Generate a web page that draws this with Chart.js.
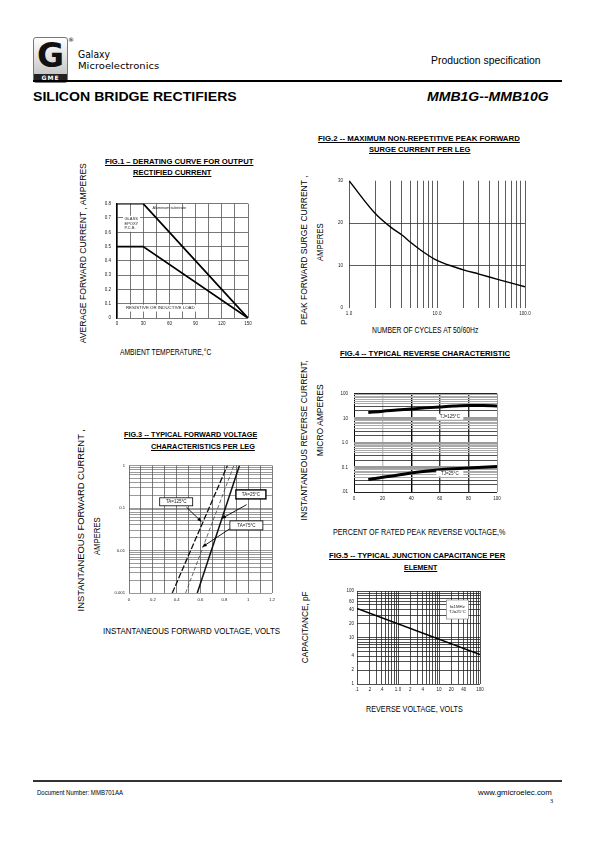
<!DOCTYPE html>
<html>
<head>
<meta charset="utf-8">
<script src="https://cdn.jsdelivr.net/npm/chart.js@4.4.1/dist/chart.umd.min.js"></script>
<style>
html, body { margin: 0; padding: 0; background: #fff; }
body { width: 595px; height: 842px; position: relative; overflow: hidden; color: #000; }
.t { position: absolute; white-space: nowrap; transform-origin: 0 50%; }
.v { position: absolute; white-space: nowrap; transform-origin: 50% 50%; }
canvas { position: absolute; }
.rule { position: absolute; background: #000; }
</style>
</head>
<body>

<div style="position:absolute;left:33px;top:37px;width:33px;height:44px;border:1px solid #777;border-radius:3px;background:linear-gradient(#fff,#bbb);overflow:hidden">
  <div style="position:absolute;left:0;right:0;top:1px;text-align:center;font:bold 33px/1 'DejaVu Sans';color:#111">G</div>
  <div style="position:absolute;left:0;right:0;bottom:0;height:8px;background:#222;color:#fff;font:bold 6px/8px 'DejaVu Sans';text-align:center;letter-spacing:1px">GME</div>
</div>
<div style="position:absolute;left:68px;top:37px;font:6px/1 'DejaVu Sans'">®</div>
<div class="rule" style="left:33px;top:80px;width:529px;height:2px"></div>
<div class="rule" style="left:33px;top:780px;width:529px;height:1.5px;background:#333"></div>

<script>
// Fig.1 derating curve
var fig1Temp = [0, 30, 150];
var fig1Aluminum = [0.8, 0.8, 0];
var fig1Glass = [0.5, 0.5, 0];
var fig1XTicks = [0, 30, 60, 90, 120, 150];
var fig1XLabels = ['0', '30', '60', '90', '120', '150'];
var fig1YTicks = [0, 0.1, 0.2, 0.3, 0.4, 0.5, 0.6, 0.7, 0.8];
var fig1YLabels = ['0', '0.1', '0.2', '0.3', '0.4', '0.5', '0.6', '0.7', '0.8'];

// Fig.2 surge current
var fig2Cycles = [1, 2, 3, 4, 5, 7, 10, 20, 30, 50, 100];
var fig2Amps = [30, 22.2, 19, 17.2, 15.5, 13.2, 11.2, 9, 8, 6.7, 5];
var fig2XTicks = [1, 10, 100];
var fig2XLabels = ['1.0', '10.0', '100.0'];
var fig2YTicks = [0, 10, 20, 30];
var fig2YLabels = ['0', '10', '20', '30'];

// Fig.3 forward voltage (each line: two end points)
var fig3Amps = [0.001, 1];
var fig3Volts125 = [0.363, 0.826];
var fig3Volts75 = [0.475, 0.88];
var fig3Volts25 = [0.573, 0.927];
var fig3XTicks = [0, 0.2, 0.4, 0.6, 0.8, 1, 1.2];
var fig3XLabels = ['0', '0.2', '0.4', '0.6', '0.8', '1', '1.2'];
var fig3YTicks = [0.001, 0.01, 0.1, 1];
var fig3YLabels = ['0.001', '0.01', '0.1', '1'];

// Fig.4 reverse characteristic
var fig4Percent = [10, 20, 30, 40, 50, 60, 70, 80, 90, 100];
var fig4Tj125 = [17, 19.5, 21.5, 24, 26.5, 29, 31.5, 33, 33, 31.5];
var fig4Tj25 = [0.032, 0.04, 0.048, 0.059, 0.07, 0.08, 0.088, 0.095, 0.102, 0.109];
var fig4XTicks = [0, 20, 40, 60, 80, 100];
var fig4XLabels = ['0', '20', '40', '60', '80', '100'];
var fig4YTicks = [0.01, 0.1, 1, 10, 100];
var fig4YLabels = ['.01', '0.1', '1.0', '10', '100'];

// Fig.5 junction capacitance
var fig5Volts = [0.1, 100];
var fig5Cap = [42, 4.3];
var fig5XTicks = [0.1, 0.2, 0.4, 1, 2, 4, 10, 20, 40, 100];
var fig5XLabels = ['.1', '.2', '.4', '1.0', '2', '4', '10', '20', '40', '100'];
var fig5YTicks = [1, 2, 4, 10, 20, 40, 60, 100];
var fig5YLabels = ['1', '2', '4', '10', '20', '40', '60', '100'];

var F = '"Liberation Sans", Arial, sans-serif';

function near(a, b) { return Math.abs(a - b) <= Math.abs(b) * 1e-6 + 1e-9; }
function labeler(vals, texts) {
    return function (v) {
        for (var i = 0; i < vals.length; i++) if (near(v, vals[i])) return texts[i];
        return '';
    };
}
function logGrid(min, max) {
    var out = [];
    for (var e = Math.floor(Math.log10(min)); e <= Math.ceil(Math.log10(max)); e++) {
        for (var m = 1; m < 10; m++) {
            var v = +(m * Math.pow(10, e)).toPrecision(6);
            if (v >= min * 0.999 && v <= max * 1.001) out.push(v);
        }
    }
    return out;
}
function stepGrid(min, max, step) {
    var out = [];
    for (var v = min; v <= max + step / 1000; v += step) out.push(+v.toPrecision(6));
    return out;
}
function useTicks(vals) {
    return function (s) { s.ticks = vals.map(function (v) { return { value: v }; }); };
}
function pts(xs, ys) { return xs.map(function (x, i) { return { x: x, y: ys[i] }; }); }
function tickOpts(cb, pad, size) {
    return { callback: cb, autoSkip: false, maxRotation: 0, padding: pad, color: '#222', font: { family: F, size: size || 4.5 } };
}
function line(data, width, color, dash, smooth) {
    return { data: data, borderColor: color || '#000', borderWidth: width, borderDash: dash || [],
        pointRadius: 0, fill: false, tension: 0, cubicInterpolationMode: smooth ? 'monotone' : 'default' };
}

function notesPlugin(items) {
    return {
        id: 'notes',
        afterDatasetsDraw: function (chart) {
            var ctx = chart.ctx, sx = chart.scales.x, sy = chart.scales.y;
            ctx.save();
            items.forEach(function (it) {
                if (it.kind === 'arrow') {
                    var x1 = sx.getPixelForValue(it.x1), y1 = sy.getPixelForValue(it.y1);
                    var x2 = sx.getPixelForValue(it.x2), y2 = sy.getPixelForValue(it.y2);
                    var a = Math.atan2(y2 - y1, x2 - x1);
                    ctx.strokeStyle = '#000'; ctx.fillStyle = '#000'; ctx.lineWidth = 0.9;
                    ctx.beginPath(); ctx.moveTo(x1, y1); ctx.lineTo(x2 - 3 * Math.cos(a), y2 - 3 * Math.sin(a)); ctx.stroke();
                    ctx.beginPath();
                    ctx.moveTo(x2, y2);
                    ctx.lineTo(x2 - 4.5 * Math.cos(a) + 1.8 * Math.sin(a), y2 - 4.5 * Math.sin(a) - 1.8 * Math.cos(a));
                    ctx.lineTo(x2 - 4.5 * Math.cos(a) - 1.8 * Math.sin(a), y2 - 4.5 * Math.sin(a) + 1.8 * Math.cos(a));
                    ctx.closePath(); ctx.fill();
                    return;
                }
                var cx = sx.getPixelForValue(it.x), cy = sy.getPixelForValue(it.y);
                ctx.font = it.size + 'px ' + F;
                var lines = it.lines, lh = it.size * 1.1;
                var tw = it.w || (Math.max.apply(null, lines.map(function (l) { return ctx.measureText(l).width; })) + 3);
                var th = it.h || (lines.length * lh + 2);
                var left = it.anchor === 'left' ? cx : cx - tw / 2;
                if (it.bg) { ctx.fillStyle = it.bg; ctx.fillRect(left, cy - th / 2, tw, th); }
                if (it.border) { ctx.strokeStyle = it.border; ctx.lineWidth = it.lw || 0.8; ctx.strokeRect(left, cy - th / 2, tw, th); }
                ctx.fillStyle = '#222'; ctx.textBaseline = 'middle';
                lines.forEach(function (l, i) {
                    var y = cy + (i - (lines.length - 1) / 2) * lh;
                    if (it.align === 'left') { ctx.textAlign = 'left'; ctx.fillText(l, left + 1.5, y); }
                    else { ctx.textAlign = 'center'; ctx.fillText(l, left + tw / 2, y); }
                });
            });
            ctx.restore();
        }
    };
}

function chartAt(box, pad, datasets, scales, items) {
    var c = document.createElement('canvas');
    var w = box[2] - box[0] + pad[0] + pad[2], h = box[3] - box[1] + pad[1] + pad[3];
    c.width = w; c.height = h;
    c.style.left = (box[0] - pad[0]) + 'px'; c.style.top = (box[1] - pad[1]) + 'px';
    c.style.width = w + 'px'; c.style.height = h + 'px';
    document.body.appendChild(c);
    scales.x.afterFit = function (s) { s.height = pad[3]; };
    scales.y.afterFit = function (s) { s.width = pad[0]; };
    return new Chart(c, {
        type: 'line',
        data: { datasets: datasets },
        options: {
            responsive: false, animation: false, events: [],
            layout: { padding: { left: 0, top: pad[1], right: pad[2], bottom: 0 } },
            plugins: { legend: { display: false }, tooltip: { enabled: false } },
            scales: scales
        },
        plugins: [notesPlugin(items || [])]
    });
}

// text helpers (scaled to the measured width of the original)
function put(text, x, cy, w, font, under) {
    var d = document.createElement('div');
    d.className = 't'; d.textContent = text; d.style.font = font;
    if (under) d.style.textDecoration = 'underline';
    document.body.appendChild(d);
    var nw = d.offsetWidth, nh = d.offsetHeight;
    d.style.left = x + 'px'; d.style.top = (cy - nh / 2) + 'px';
    d.style.transform = 'scaleX(' + (w / nw) + ')';
}
function putV(text, cx, cy, len, font) {
    var d = document.createElement('div');
    d.className = 'v'; d.textContent = text; d.style.font = font;
    document.body.appendChild(d);
    var nw = d.offsetWidth, nh = d.offsetHeight;
    d.style.left = (cx - nw / 2) + 'px'; d.style.top = (cy - nh / 2) + 'px';
    d.style.transform = 'rotate(-90deg) scaleX(' + (len / nw) + ')';
}

var TITLE = 'bold 7.8px/1 ' + F;
var AXIS = '8.5px/1 ' + F;

// header and footer
put('Galaxy', 78, 54, 32, '11px/1 "DejaVu Sans"');
put('Microelectronics', 78, 66.5, 81, '9px/1 "DejaVu Sans"');
put('Production specification', 431, 61, 110, '10px/1 ' + F);
put('SILICON BRIDGE RECTIFIERS', 33, 96, 204, 'bold 13px/1 ' + F);
put('MMB1G--MMB10G', 427, 96, 122, 'italic bold 13px/1 ' + F);
put('Document Number: MMB701AA', 37, 792, 86, '7px/1 ' + F);
put('www.gmicroelec.com', 478, 792, 74, '7px/1 ' + F);
put('3', 550, 801, 3.5, '7px/1 "Liberation Serif"');

// Fig.1
put('FIG.1 – DERATING CURVE FOR OUTPUT', 105, 161.5, 148, TITLE, true);
put('RECTIFIED CURRENT', 133, 172.5, 78, TITLE, true);
putV('AVERAGE FORWARD CURRENT , AMPERES', 83, 253, 180, AXIS);
put('AMBIENT TEMPERATURE,°C', 120, 352, 91, AXIS);
chartAt([117, 201, 248, 318], [28, 6, 8, 12], [
    line(pts(fig1Temp, fig1Aluminum), 1.8),
    line(pts(fig1Temp, fig1Glass), 1.8)
], {
    x: { type: 'linear', min: 0, max: 150, afterBuildTicks: useTicks(stepGrid(0, 150, 15)),
         ticks: tickOpts(labeler(fig1XTicks, fig1XLabels), 3),
         grid: { color: '#555', lineWidth: 0.8, drawTicks: false }, border: { display: false } },
    y: { type: 'linear', min: 0, max: 0.8, afterBuildTicks: useTicks(fig1YTicks),
         ticks: tickOpts(labeler(fig1YTicks, fig1YLabels), 6),
         grid: { color: '#555', lineWidth: 0.8, drawTicks: false }, border: { display: true, color: '#000', width: 1.3 } }
}, [
    { kind: 'text', x: 38.9, y: 0.769, lines: ['Aluminum substrate'], size: 3.8, anchor: 'left', align: 'left' },
    { kind: 'box', x: 16.6, y: 0.66, w: 17, h: 16, lines: ['GLASS', 'EPOXY', 'P.C.B.'], size: 4, bg: '#fff', align: 'left' },
    { kind: 'text', x: 8.5, y: 0.069, lines: ['RESISTIVE OR INDUCTIVE LOAD'], size: 4.4, bg: '#fff', anchor: 'left', align: 'left' }
]);

// Fig.2
put('FIG.2 -- MAXIMUM NON-REPETITIVE PEAK FORWARD', 318, 138.5, 202, TITLE, true);
put('SURGE CURRENT PER LEG', 369, 150, 101, TITLE, true);
putV('PEAK FORWARD SURGE CURRENT ,', 304, 250, 150, AXIS);
putV('AMPERES', 320, 242, 38, AXIS);
put('NUMBER OF CYCLES AT 50/60Hz', 372, 330, 106, AXIS);
chartAt([349, 178, 525, 308], [26, 6, 12, 12], [
    line(pts(fig2Cycles, fig2Amps), 1.4, '#000', null, true)
], {
    x: { type: 'logarithmic', min: 1, max: 100, afterBuildTicks: useTicks(logGrid(1, 100)),
         ticks: tickOpts(labeler(fig2XTicks, fig2XLabels), 3),
         grid: { color: '#333', lineWidth: 0.8, drawTicks: false }, border: { display: false } },
    y: { type: 'linear', min: 0, max: 30, afterBuildTicks: useTicks(fig2YTicks),
         ticks: tickOpts(labeler(fig2YTicks, fig2YLabels), 6),
         grid: { color: function (c) { return (c.tick && (c.tick.value === 10 || c.tick.value === 20)) ? '#333' : 'rgba(0,0,0,0)'; },
                 lineWidth: 0.8, drawTicks: false },
         border: { display: false } }
});

// Fig.3
put('FIG.3 -- TYPICAL FORWARD VOLTAGE', 124, 435, 133, TITLE, true);
put('CHARACTERISTICS PER LEG', 151, 446.5, 104, TITLE, true);
putV('INSTANTANEOUS FORWARD CURRENT ,', 81.5, 520, 182, AXIS);
putV('AMPERES', 96.5, 536, 38, AXIS);
put('INSTANTANEOUS FORWARD VOLTAGE,  VOLTS', 103, 631.5, 177, AXIS);
chartAt([129, 465, 272, 593], [24, 6, 10, 12], [
    line(pts(fig3Volts125, fig3Amps), 1.3, '#111', [6, 2]),
    line(pts(fig3Volts75, fig3Amps), 0.8, '#444', [4, 2]),
    line(pts(fig3Volts25, fig3Amps), 1.5, '#111')
], {
    x: { type: 'linear', min: 0, max: 1.2, afterBuildTicks: useTicks(stepGrid(0, 1.2, 0.1)),
         ticks: tickOpts(labeler(fig3XTicks, fig3XLabels), 4, 4.2),
         grid: { color: '#444', lineWidth: 0.7, drawTicks: false }, border: { display: false } },
    y: { type: 'logarithmic', min: 0.001, max: 1, afterBuildTicks: useTicks(logGrid(0.001, 1)),
         ticks: tickOpts(labeler(fig3YTicks, fig3YLabels), 4, 4.2),
         grid: { color: '#555', lineWidth: 0.6, drawTicks: false }, border: { display: false } }
}, [
    { kind: 'arrow', x1: 0.482, y1: 0.105, x2: 0.61, y2: 0.047 },
    { kind: 'arrow', x1: 0.987, y1: 0.12, x2: 0.775, y2: 0.056 },
    { kind: 'arrow', x1: 0.846, y1: 0.0325, x2: 0.615, y2: 0.0121 },
    { kind: 'box', x: 0.396, y: 0.14, w: 33, h: 8, lines: ['TA=125°C'], size: 4.5, bg: '#fff', border: '#000', lw: 0.8 },
    { kind: 'box', x: 1.023, y: 0.209, w: 30, h: 9, lines: ['TA=25°C'], size: 4.5, bg: '#fff', border: '#000', lw: 1.4 },
    { kind: 'box', x: 0.985, y: 0.039, w: 33, h: 9, lines: ['TA=75°C'], size: 4.5, bg: '#fff', border: '#000', lw: 0.8 }
]);

// Fig.4
put('FIG.4 -- TYPICAL REVERSE CHARACTERISTIC', 340, 354, 170, TITLE, true);
putV('INSTANTANEOUS REVERSE CURRENT,', 304.5, 440, 160, AXIS);
putV('MICRO AMPERES', 320, 420, 72, AXIS);
put('PERCENT OF RATED PEAK REVERSE VOLTAGE,%', 333, 532, 172, AXIS);
chartAt([354, 391, 497, 492], [28, 6, 10, 12], [
    line(pts(fig4Percent, fig4Tj125), 3, '#000', null, true),
    line(pts(fig4Percent, fig4Tj25), 3, '#000', null, true)
], {
    x: { type: 'linear', min: 0, max: 100, afterBuildTicks: useTicks(fig4XTicks),
         ticks: tickOpts(labeler(fig4XTicks, fig4XLabels), 4),
         grid: { color: function (c) {
                     var v = c.tick && c.tick.value;
                     if (v === 20) return '#c4c4c4';
                     if (v === 40 || v === 0) return '#000';
                     if (v === 100) return '#999';
                     return '#333';
                 },
                 lineWidth: function (c) { var v = c.tick && c.tick.value; return (v === 0 || v === 100) ? 1 : 1.4; },
                 drawTicks: false },
         border: { display: false } },
    y: { type: 'logarithmic', min: 0.01, max: 100, afterBuildTicks: useTicks(logGrid(0.01, 100)),
         ticks: tickOpts(labeler(fig4YTicks, fig4YLabels), 6),
         grid: { color: function (c) {
                     var v = c.tick && c.tick.value;
                     if (v === 100 || v === 0.01) return '#222';
                     var m = Math.round(v / Math.pow(10, Math.floor(Math.log10(v) + 1e-9)));
                     if (m === 1) return '#9a9a9a';
                     if (m === 2 || m === 3) return '#222';
                     return '#aaa';
                 },
                 lineWidth: function (c) {
                     var v = c.tick && c.tick.value;
                     if (v === 100 || v === 0.01) return 1;
                     var m = Math.round(v / Math.pow(10, Math.floor(Math.log10(v) + 1e-9)));
                     return m === 1 ? 2.5 : (m <= 3 ? 0.8 : 1);
                 },
                 drawTicks: false },
         border: { display: false } }
}, [
    { kind: 'box', x: 67, y: 11.5, w: 27, h: 6, lines: ['TJ=125°C'], size: 4.5, bg: '#fff' },
    { kind: 'box', x: 67, y: 0.056, w: 27, h: 6, lines: ['TJ=25°C'], size: 4.5, bg: '#fff' }
]);

// Fig.5
put('FIG.5 -- TYPICAL JUNCTION CAPACITANCE PER', 329, 556, 176, TITLE, true);
put('ELEMENT', 404, 568, 33, TITLE, true);
putV('CAPACITANCE,  pF', 305, 627, 72, AXIS);
put('REVERSE VOLTAGE,  VOLTS', 366, 709, 97, AXIS);
chartAt([357, 591, 480, 684], [22, 6, 10, 12], [
    line(pts(fig5Volts, fig5Cap), 1.6)
], {
    x: { type: 'logarithmic', min: 0.1, max: 100, afterBuildTicks: useTicks(logGrid(0.1, 100)),
         ticks: tickOpts(labeler(fig5XTicks, fig5XLabels), 3),
         grid: { color: '#222', lineWidth: 0.8, drawTicks: false }, border: { display: false } },
    y: { type: 'logarithmic', min: 1, max: 100, afterBuildTicks: useTicks(logGrid(1, 100)),
         ticks: tickOpts(labeler(fig5YTicks, fig5YLabels), 3),
         grid: { color: '#222', lineWidth: 0.8, drawTicks: false }, border: { display: false } }
}, [
    { kind: 'box', x: 28, y: 40, w: 22, h: 19, lines: ['f=1MHz', 'TJ=25°C'], size: 4.3, bg: '#fff', border: '#777', lw: 0.6 }
]);
</script>
</body>
</html>
